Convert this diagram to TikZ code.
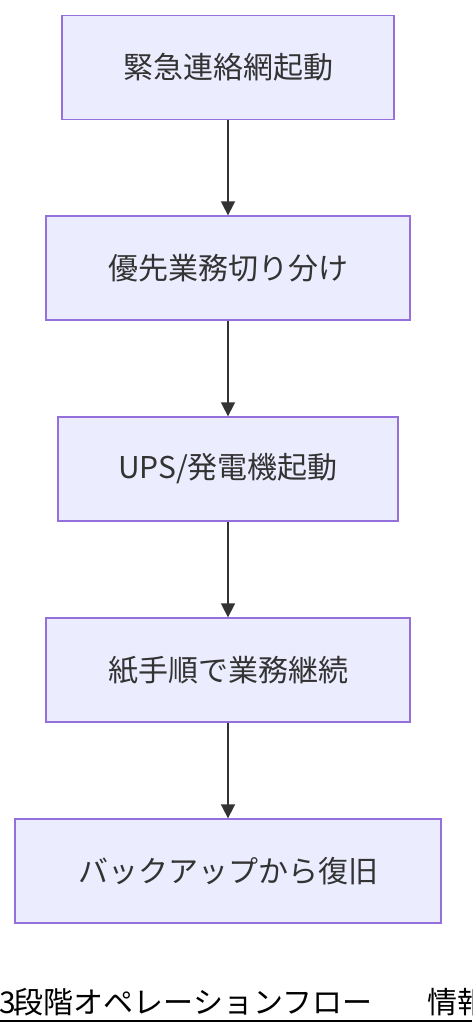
\documentclass[tikz,border=0pt]{standalone}
\usepackage{fontspec}
\setmainfont{Noto Sans CJK JP}
\usetikzlibrary{arrows.meta}
\definecolor{boxfill}{HTML}{ECECFF}
\definecolor{boxline}{HTML}{9370DB}
\definecolor{flowline}{HTML}{333333}

\begin{document}
\begin{tikzpicture}[x=1pt,y=-1pt]
	\tikzset{stepbox/.style={draw=boxline,fill=boxfill,line width=1.3pt,minimum height=104pt,inner sep=0pt,text=flowline,font=\fontsize{30}{34}\selectfont}}
	\tikzset{flow/.style={draw=flowline,line width=1.6pt,-{Triangle[length=14pt,width=14pt]}}}
	\useasboundingbox (0,0) rectangle (472,1036);

	    \node[stepbox,minimum width=332pt] (alert) at (228,67.5) {緊急連絡網起動};
	    \node[stepbox,minimum width=364pt] (triage) at (228,268) {優先業務切り分け};
	    \node[stepbox,minimum width=340pt] (power) at (228,469) {UPS/発電機起動};
	    \node[stepbox,minimum width=364pt] (paper) at (228,670) {紙手順で業務継続};
	    \node[stepbox,minimum width=426pt] (restore) at (228,871) {バックアップから復旧};

	    \draw[flow] (alert) -- (triage);
	    \draw[flow] (triage) -- (power);
	    \draw[flow] (power) -- (paper);
	    \draw[flow] (paper) -- (restore);

	    % title line at the bottom, cut off on the right
	    \node[anchor=base west,inner sep=0pt,font=\fontsize{30}{34}\selectfont] (title) at (-1,1013) {3\hspace{-2pt}段階オペレーションフロー　\hspace{25pt}情報};
	    \draw[line width=2.2pt] (0,1021) -- (472,1021);

\end{tikzpicture}
\end{document}
